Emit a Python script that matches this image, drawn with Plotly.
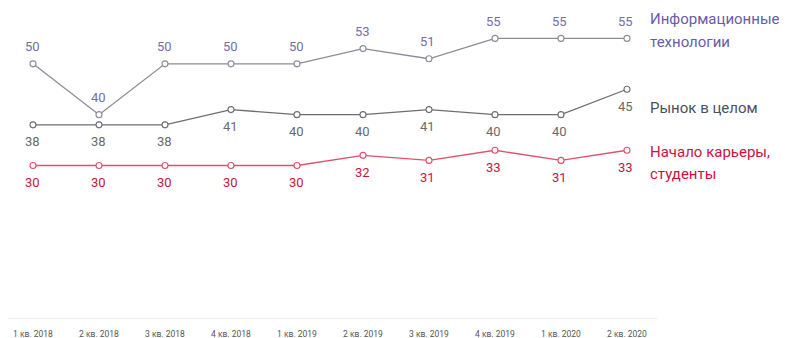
import plotly.graph_objects as go

quarters = ["1 кв. 2018", "2 кв. 2018", "3 кв. 2018", "4 кв. 2018", "1 кв. 2019",
            "2 кв. 2019", "3 кв. 2019", "4 кв. 2019", "1 кв. 2020", "2 кв. 2020"]
it_values = [50, 40, 50, 50, 50, 53, 51, 55, 55, 55]
market_values = [38, 38, 38, 41, 40, 40, 41, 40, 40, 45]
career_values = [30, 30, 30, 30, 30, 32, 31, 33, 31, 33]

# name lines, values, line colour, label colour, legend colour, label shift, legend line shifts
series = [
    (["Информационные", "технологии"], it_values, "#8e8a98", "#7b6aae", "#6b5ba6", 17, [19, -4]),
    (["Рынок в целом"], market_values, "#6e6e72", "#6a6a70", "#4b5060", -17, [-19]),
    (["Начало карьеры,", "студенты"], career_values, "#e0506e", "#c8143c", "#d01040", -17, [-2, -24]),
]

fig = go.Figure()
annotations = []
for lines, vals, lc, tc, legc, shift, lshifts in series:
    fig.add_trace(go.Scatter(
        x=quarters, y=vals, mode="lines+markers", name=" ".join(lines),
        line=dict(color=lc, width=1.3),
        marker=dict(size=6, color="white", line=dict(color=lc, width=1.1)),
        showlegend=False, hoverinfo="skip", cliponaxis=False,
    ))
    for q, v in zip(quarters, vals):
        annotations.append(dict(x=q, y=v, text=str(v), showarrow=False,
                                yshift=shift, xshift=-1,
                                font=dict(size=13, color=tc, family="Roboto")))
    for line, ls in zip(lines, lshifts):
        annotations.append(dict(x=quarters[-1], y=vals[-1], text=line, showarrow=False,
                                xanchor="left", yanchor="middle", align="left",
                                xshift=21, yshift=ls,
                                font=dict(size=15, color=legc, family="Roboto")))

fig.update_layout(
    width=779, height=330,
    margin=dict(l=0, r=129, t=5, b=20),
    paper_bgcolor="white", plot_bgcolor="white",
    annotations=annotations,
    xaxis=dict(type="category", range=[-0.379, 9.470], showgrid=False, zeroline=False,
               showline=True, linecolor="#f0f0f0", linewidth=1,
               ticks="outside", ticklen=8, tickcolor="rgba(0,0,0,0)",
               tickfont=dict(size=8.5, color="#555", family="Roboto"), fixedrange=True),
    yaxis=dict(range=[0, 60], visible=False, fixedrange=True),
    font=dict(family="Roboto"),
)
fig.write_html("out.html")
